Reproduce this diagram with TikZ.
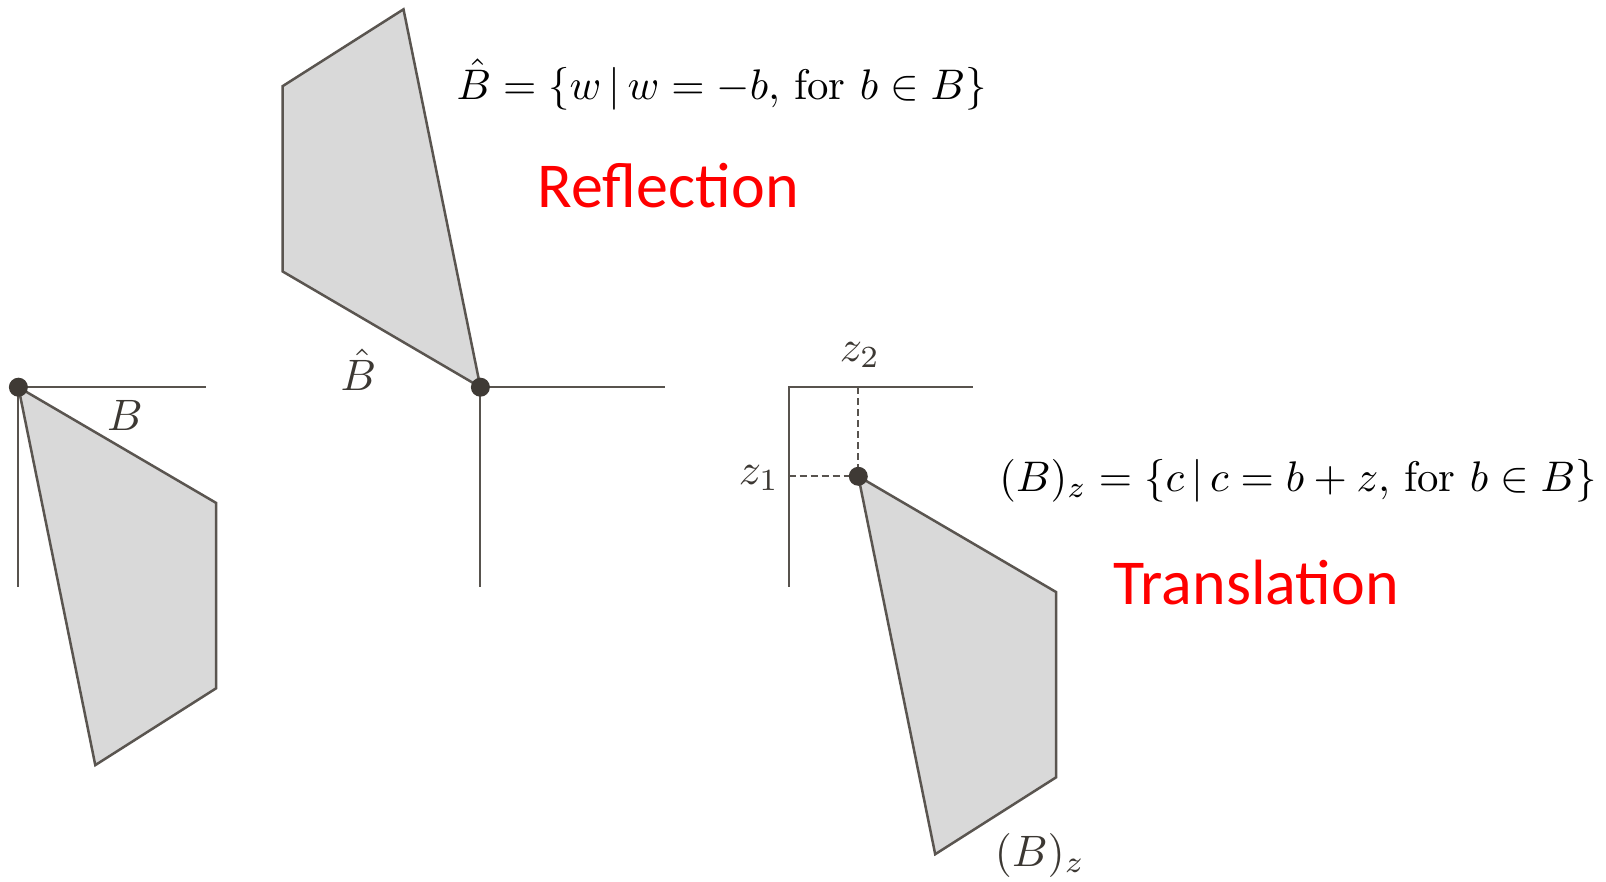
\documentclass[tikz,border=0pt]{standalone}
\usepackage{fontspec}
\newfontfamily\calib{Carlito}
\definecolor{shapefill}{HTML}{D9D9D9}
\definecolor{shapeline}{HTML}{5A5550}
\definecolor{axisline}{HTML}{58534E}
\definecolor{dotcol}{HTML}{3F3A35}
\definecolor{labelcol}{HTML}{3C3833}
\definecolor{redtext}{HTML}{FF0000}
\tikzset{
  region/.style={fill=shapefill, draw=shapeline, line width=2.5pt, line join=miter},
  axisln/.style={draw=axisline, line width=2pt},
  guide/.style={draw=axisline, line width=1.8pt, dash pattern=on 7pt off 4pt},
  dotnode/.style={circle, fill=dotcol, inner sep=0pt, minimum size=19pt},
  formula/.style={scale=4.28, inner sep=0pt, anchor=base west},
  redlabel/.style={font=\fontsize{64}{70}\selectfont\calib, text=redtext, inner sep=0pt, anchor=base west},
  setlabel/.style={scale=4.4, inner sep=0pt, text=labelcol}
}
\begin{document}
\begin{tikzpicture}[x=1pt,y=-1pt]
\useasboundingbox (0,0) rectangle (1606,881);
% ---------- left: B ----------
\coordinate (L0) at (18.4,387.2);
\coordinate (L1) at (216.1,502.9);
\coordinate (L2) at (216.1,688.3);
\coordinate (L3) at (95.3,765.1);
\coordinate (Lh) at (205.9,387.2);
\coordinate (Lv) at (18.4,586.9);
\draw[region] (L0) -- (L1) -- (L2) -- (L3) -- cycle;
\draw[axisln] (L0) -- (Lh);
\draw[axisln] (L0) -- (Lv);
\node[dotnode] (dL) at (L0) {};
\node[setlabel] (labB) at (125,415) {$B$};
% ---------- middle: reflection ----------
\coordinate (M0) at (480.4,387.2);
\coordinate (M1) at (282.7,271.5);
\coordinate (M2) at (282.7,86.1);
\coordinate (M3) at (403.5,9.3);
\coordinate (Mh) at (664.7,387.2);
\coordinate (Mv) at (480.4,586.9);
\draw[region] (M0) -- (M1) -- (M2) -- (M3) -- cycle;
\draw[axisln] (M0) -- (Mh);
\draw[axisln] (M0) -- (Mv);
\node[dotnode] (dM) at (M0) {};
\node[setlabel] (labBhat) at (358.5,370) {$\hat{B}$};
\node[formula] (eqR) at (455.8,99) {$\hat{B}=\{w\,|\,w=-b,\,\mbox{for}\ b\in B\}$};
\node[redlabel] (txtR) at (537.7,207) {Reflection};
% ---------- right: translation ----------
\coordinate (C0) at (788.6,387.2);
\coordinate (Ch) at (973,387.2);
\coordinate (Cv) at (788.6,586.9);
\coordinate (R0) at (858.3,476.3);
\coordinate (R1) at (1056,592);
\coordinate (R2) at (1056,777.4);
\coordinate (R3) at (935.2,854.2);
\coordinate (Gz2) at (858.3,387.2);
\coordinate (Gz1) at (788.6,476.3);
\draw[region] (R0) -- (R1) -- (R2) -- (R3) -- cycle;
\draw[axisln] (Cv) -- (C0) -- (Ch);
\draw[guide] (Gz2) -- (R0);
\draw[guide] (Gz1) -- (R0);
\node[dotnode] (dR) at (R0) {};
\node[setlabel] (labz2) at (860,355) {$z_2$};
\node[setlabel] (labz1) at (759,478) {$z_1$};
\node[formula] (eqT) at (998.6,491) {$(B)_z=\{c\,|\,c=b+z,\,\mbox{for}\ b\in B\}$};
\node[setlabel] (labBz) at (1040,855) {$(B)_z$};
\node[redlabel] (txtT) at (1113.3,604) {Translation};
\end{tikzpicture}
\end{document}
